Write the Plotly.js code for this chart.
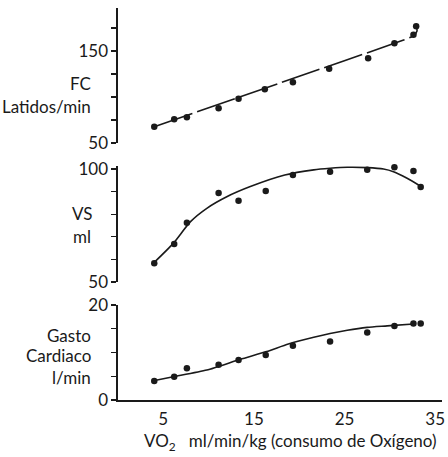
<!DOCTYPE html>
<html>
<head>
<meta charset="utf-8">
<script src="https://cdn.plot.ly/plotly-3.0.1.min.js"></script>
<style>html,body{margin:0;padding:0;background:#fff;}#chart{width:448px;height:457px;}</style>
</head>
<body>
<div id="chart"></div>
<script>
// VO2 (ml/min/kg) for measured points
const vo2 = [4.0, 6.2, 7.6, 11.1, 13.3, 16.3, 19.3, 23.4, 27.5, 30.5, 32.6, 33.4];
const vo2FC = [4.0, 6.2, 7.6, 11.1, 13.3, 16.2, 19.3, 23.3, 27.6, 30.5, 32.6, 32.9];

// FC (latidos/min)
const fc = [67.7, 75.8, 77.9, 87.7, 98.2, 108.4, 116, 130.8, 142, 158.4, 167.7, 176.8];
// VS (ml)
const vs = [58.3, 66.8, 76.2, 89.4, 86, 90.3, 97.3, 98.8, 99.7, 100.8, 99.1, 92];
// Gasto cardiaco (l/min)
const gc = [4.0, 4.9, 6.7, 7.4, 8.4, 9.5, 11.4, 12.3, 14.2, 15.6, 16.1, 16.1];

// Hand-drawn fitted curves
const fcCurveX = [4.0, 20, 30.5, 32.6, 33.0, 32.9];
const fcCurveY = [67.7, 122.5, 158.4, 166.5, 172, 177];
const vsCurveX = [3.9, 6.1, 8.0, 9.8, 12.0, 14.6, 18.4, 21.6, 23.4, 25.3, 27.5, 29.3, 30.4, 31.9, 33.3];
const vsCurveY = [58.3, 67.1, 76.7, 82.6, 87.7, 92.2, 97.3, 99.6, 100.3, 100.75, 100.6, 100, 98.8, 95.9, 92.6];
const gcCurveX = [3.9, 6.1, 9.8, 13.5, 16.4, 18.8, 21.6, 23.4, 25.3, 27.5, 29.7, 32.6];
const gcCurveY = [4.06, 4.9, 6.3, 8.57, 10.2, 11.8, 13.2, 14.0, 14.7, 15.3, 15.6, 16.0];

const xTicks = [5, 15, 25, 35];
const fcTicks = [50, 75, 100, 125, 150, 175];
const fcTickText = ['50', '', '', '', '150', ''];
const vsTicks = [50, 60, 70, 80, 90, 100];
const vsTickText = ['50', '', '', '', '', '100'];
const gcTicks = [0, 5, 10, 15, 20];
const gcTickText = ['0', '', '', '', '20'];

const ink = '#1a1a1a';
const fontFam = 'Lato, "Open Sans", sans-serif';

function curve(x, y, ya, dash) {
  return {x: x, y: y, xaxis: 'x', yaxis: ya, mode: 'lines', type: 'scatter',
    line: {color: ink, width: 1.6, dash: dash, shape: 'spline', smoothing: 0.6}, hoverinfo: 'skip'};
}
function pts(x, y, ya) {
  return {x: x, y: y, xaxis: 'x', yaxis: ya, mode: 'markers', type: 'scatter', cliponaxis: false,
    marker: {color: ink, size: 6.5}};
}

const data = [
  curve(fcCurveX, fcCurveY, 'y', '40px,5px'), pts(vo2FC, fc, 'y'),
  curve(vsCurveX, vsCurveY, 'y2', 'solid'), pts(vo2, vs, 'y2'),
  curve(gcCurveX, gcCurveY, 'y3', 'solid'), pts(vo2, gc, 'y3')
];

function yax(domain, range, tv, tt) {
  return {domain: domain, range: range, tickvals: tv, ticktext: tt, ticks: 'outside', ticklen: 5,
    tickwidth: 1.3, tickcolor: ink, showline: true, linecolor: ink, linewidth: 1.6,
    showgrid: false, zeroline: false, anchor: 'x', fixedrange: true,
    tickfont: {family: fontFam, size: 17, color: ink}};
}

const H = 392; // plot height px
const layout = {
  width: 448, height: 457,
  margin: {l: 118, r: 6, t: 8, b: 57},
  paper_bgcolor: '#fff', plot_bgcolor: '#fff',
  showlegend: false,
  font: {family: fontFam, color: ink, size: 16},
  xaxis: {range: [0, 35.75], tickvals: xTicks, ticks: 'outside', ticklen: 3, tickcolor: 'rgba(0,0,0,0)',
    showline: true, linecolor: ink, linewidth: 1.6,
    showgrid: false, zeroline: false, anchor: 'y3', tickfont: {family: fontFam, size: 17, color: ink}},
  yaxis: yax([(400 - 143) / H, 1], [50, 196.7], fcTicks, fcTickText),
  yaxis2: yax([(400 - 282) / H, (400 - 165.6) / H], [50, 101.5], vsTicks, vsTickText),
  yaxis3: yax([0, (400 - 305) / H], [0, 20], gcTicks, gcTickText),
  annotations: [
    {text: 'FC', xref: 'paper', yref: 'paper', x: (93 - 118) / 324, y: (400 - 83) / H, xanchor: 'right', yanchor: 'middle', showarrow: false, font: {size: 17}},
    {text: 'Latidos/min', xref: 'paper', yref: 'paper', x: (93 - 118) / 324, y: (400 - 107) / H, xanchor: 'right', yanchor: 'middle', showarrow: false, font: {size: 17}},
    {text: 'VS', xref: 'paper', yref: 'paper', x: (82 - 118) / 324, y: (400 - 213) / H, xanchor: 'center', yanchor: 'middle', showarrow: false, font: {size: 17}},
    {text: 'ml', xref: 'paper', yref: 'paper', x: (82 - 118) / 324, y: (400 - 237) / H, xanchor: 'center', yanchor: 'middle', showarrow: false, font: {size: 17}},
    {text: 'Gasto', xref: 'paper', yref: 'paper', x: (93 - 118) / 324, y: (400 - 335) / H, xanchor: 'right', yanchor: 'middle', showarrow: false, font: {size: 17}},
    {text: 'Cardiaco', xref: 'paper', yref: 'paper', x: (93 - 118) / 324, y: (400 - 355) / H, xanchor: 'right', yanchor: 'middle', showarrow: false, font: {size: 17}},
    {text: 'l/min', xref: 'paper', yref: 'paper', x: (93 - 118) / 324, y: (400 - 377) / H, xanchor: 'right', yanchor: 'middle', showarrow: false, font: {size: 17}},
    {text: 'VO<sub>2</sub>\u00a0\u00a0\u00a0ml/min/kg (consumo de Oxígeno)', xref: 'paper', yref: 'paper', x: (290 - 118) / 324, y: (400 - 442) / H, xanchor: 'center', yanchor: 'middle', showarrow: false, font: {size: 17}}
  ]
};

Plotly.newPlot('chart', data, layout, {staticPlot: true, displayModeBar: false});
</script>
</body>
</html>
